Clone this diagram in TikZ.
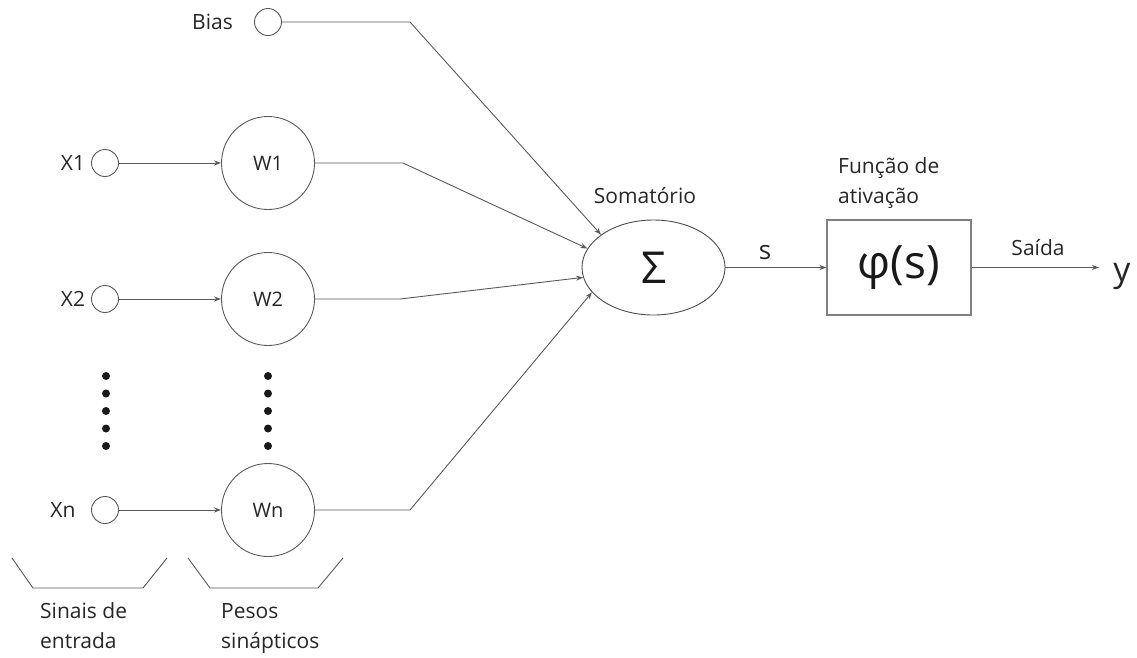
\documentclass[tikz,border=0pt]{standalone}
\usepackage{fontspec}
\setmainfont{Open Sans}
\usetikzlibrary{arrows.meta,shapes.geometric}
\begin{document}
\begin{tikzpicture}[x=1pt,y=-1pt,
  wire/.style={draw=black!65, line width=0.9pt},
  arr/.style={wire,-{Stealth[length=7pt,width=5pt]}},
  port/.style={circle,draw=black!65,line width=0.9pt,minimum size=27pt,inner sep=0pt},
  weight/.style={circle,draw=black!65,line width=0.9pt,minimum size=93pt,inner sep=0pt,
    text=black!85,font=\fontsize{20}{22}\selectfont},
  lbl/.style={text=black!85,inner sep=0pt,font=\fontsize{21}{30}\selectfont},
  dot/.style={circle,fill=black!90,minimum size=8pt,inner sep=0pt}
]
\useasboundingbox (0,0) rectangle (1137,657);

% inputs and their small terminals
\node[port] (bias) at (268,22) {};
\node[lbl,anchor=east] (biasl) at (233,22) {Bias};
\node[port] (x1) at (105,163) {};
\node[lbl] (x1l) at (73,163) {X1};
\node[port] (x2) at (105,299) {};
\node[lbl] (x2l) at (73,299) {X2};
\node[port] (xn) at (105,510) {};
\node[lbl] (xnl) at (63,510) {Xn};

% synaptic weights
\node[weight] (w1) at (268,163) {W1};
\node[weight] (w2) at (268,299) {W2};
\node[weight] (wn) at (268,510) {Wn};

% vertical ellipsis dots
\foreach \yy [count=\i] in {376,393.5,411,428.5,446} {
  \node[dot] (dl\i) at (106,\yy) {};
  \node[dot] (dr\i) at (268,\yy) {};
}

% summing junction and activation block
\node[ellipse,draw=black!70,line width=0.9pt,minimum width=143pt,minimum height=95pt,
  inner sep=0pt,text=black!90,font=\fontsize{44}{48}\selectfont] (sum) at (653.5,267.5) {Σ};
\node[draw=black!50,line width=1.3pt,minimum width=144pt,minimum height=95pt,
  inner sep=0pt,text=black!90,font=\fontsize{46}{50}\selectfont] (phi) at (899,267.5) {φ(s)};
\coordinate (out) at (1099,267.5);

% elbow points of the weighted lines
\coordinate (kb) at (410,22);
\coordinate (k1) at (403,163);
\coordinate (k2) at (400,299);
\coordinate (kn) at (410,510);

% connections
\draw[arr] (x1) -- (w1);
\draw[arr] (x2) -- (w2);
\draw[arr] (xn) -- (wn);
\draw[arr] (bias) -- (kb) -- (sum.148);
\draw[arr] (w1) -- (k1) -- (sum.164);
\draw[arr] (w2) -- (k2) -- (sum.188);
\draw[arr] (wn) -- (kn) -- (sum.202);
\draw[arr] (sum) -- (phi);
\draw[arr] (phi) -- (out);

% captions
\node[lbl,anchor=base] (suml) at (645,203) {Somatório};
\node[lbl,anchor=base,font=\fontsize{26}{30}\selectfont] (sl) at (765,259) {s};
\node[lbl,anchor=base west,align=left] (phil) at (838,203) {Função de\\ativação};
\node[lbl,anchor=base] (outl) at (1038,255) {Saída};
\node[lbl,anchor=base,font=\fontsize{34}{40}\selectfont] (yl) at (1122,281) {y};

% group braces under the columns
\draw[wire] (12,558) -- (33,588) -- (143,588) -- (167,558);
\draw[wire] (188,558) -- (210,588) -- (318,588) -- (343,558);
\node[lbl,anchor=base west,align=left] (inl) at (40,648) {Sinais de\\entrada};
\node[lbl,anchor=base west,align=left] (wl) at (221,648) {Pesos\\sinápticos};
\end{tikzpicture}
\end{document}
